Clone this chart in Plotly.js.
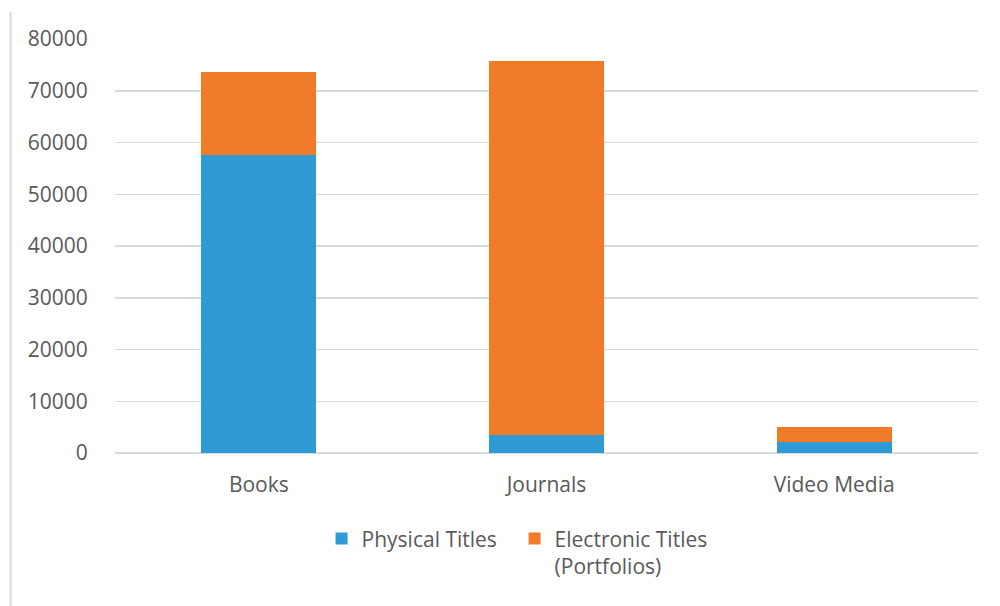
<!DOCTYPE html>
<html>
<head>
<meta charset="utf-8">
<script src="https://cdn.plot.ly/plotly-3.0.1.min.js"></script>
<style>html,body{margin:0;padding:0;background:#fff;}#chart{width:1000px;height:606px;}</style>
</head>
<body>
<div id="chart"></div>
<script>
const categories = ["Books", "Journals", "Video Media"];
const physicalTitles = [57550, 3400, 2200];
const electronicTitles = [16150, 72400, 2850];
const seriesNames = ["Physical Titles", "Electronic Titles<br>(Portfolios)"];
const yTicks = [0, 10000, 20000, 30000, 40000, 50000, 60000, 70000, 80000];

const font = {family: "Open Sans, Noto Sans, sans-serif", size: 21, color: "#595959"};

const traces = [
  {type: "bar", name: seriesNames[0], x: categories, y: physicalTitles, marker: {color: "#2e9bd6"}, width: 0.4},
  {type: "bar", name: seriesNames[1], x: categories, y: electronicTitles, marker: {color: "#f27b2a"}, width: 0.4}
];

const layout = {
  width: 1000, height: 606,
  margin: {l: 114.5, r: 21.5, t: 39, b: 153.3},
  barmode: "stack",
  paper_bgcolor: "#fff", plot_bgcolor: "#fff",
  font: font,
  showlegend: true,
  legend: {orientation: "h", x: 0.463, xanchor: "center", y: -0.158, yanchor: "top", font: font,
           traceorder: "normal", valign: "top", itemwidth: 30, entrywidth: 148},
  xaxis: {
    range: [-0.5, 2.5], showgrid: false, zeroline: false, showline: false,
    ticks: "outside", ticklen: 13, tickcolor: "rgba(0,0,0,0)", tickfont: font
  },
  yaxis: {
    range: [0, 80000], tickvals: yTicks, ticktext: yTicks.map(String),
    showgrid: true, gridcolor: "#d9d9d9", gridwidth: 1.5,
    zeroline: true, zerolinecolor: "#d9d9d9", zerolinewidth: 1.5, showline: false,
    ticks: "outside", ticklen: 22, tickcolor: "rgba(0,0,0,0)", tickfont: font
  },
  shapes: [
    {type: "line", xref: "paper", yref: "paper", x0: -0.121, x1: -0.121, y0: 1.065, y1: -0.371, line: {color: "#d9d9d9", width: 2}}
  ]
};

Plotly.newPlot("chart", traces, layout, {displayModeBar: false, staticPlot: true});
</script>
</body>
</html>
